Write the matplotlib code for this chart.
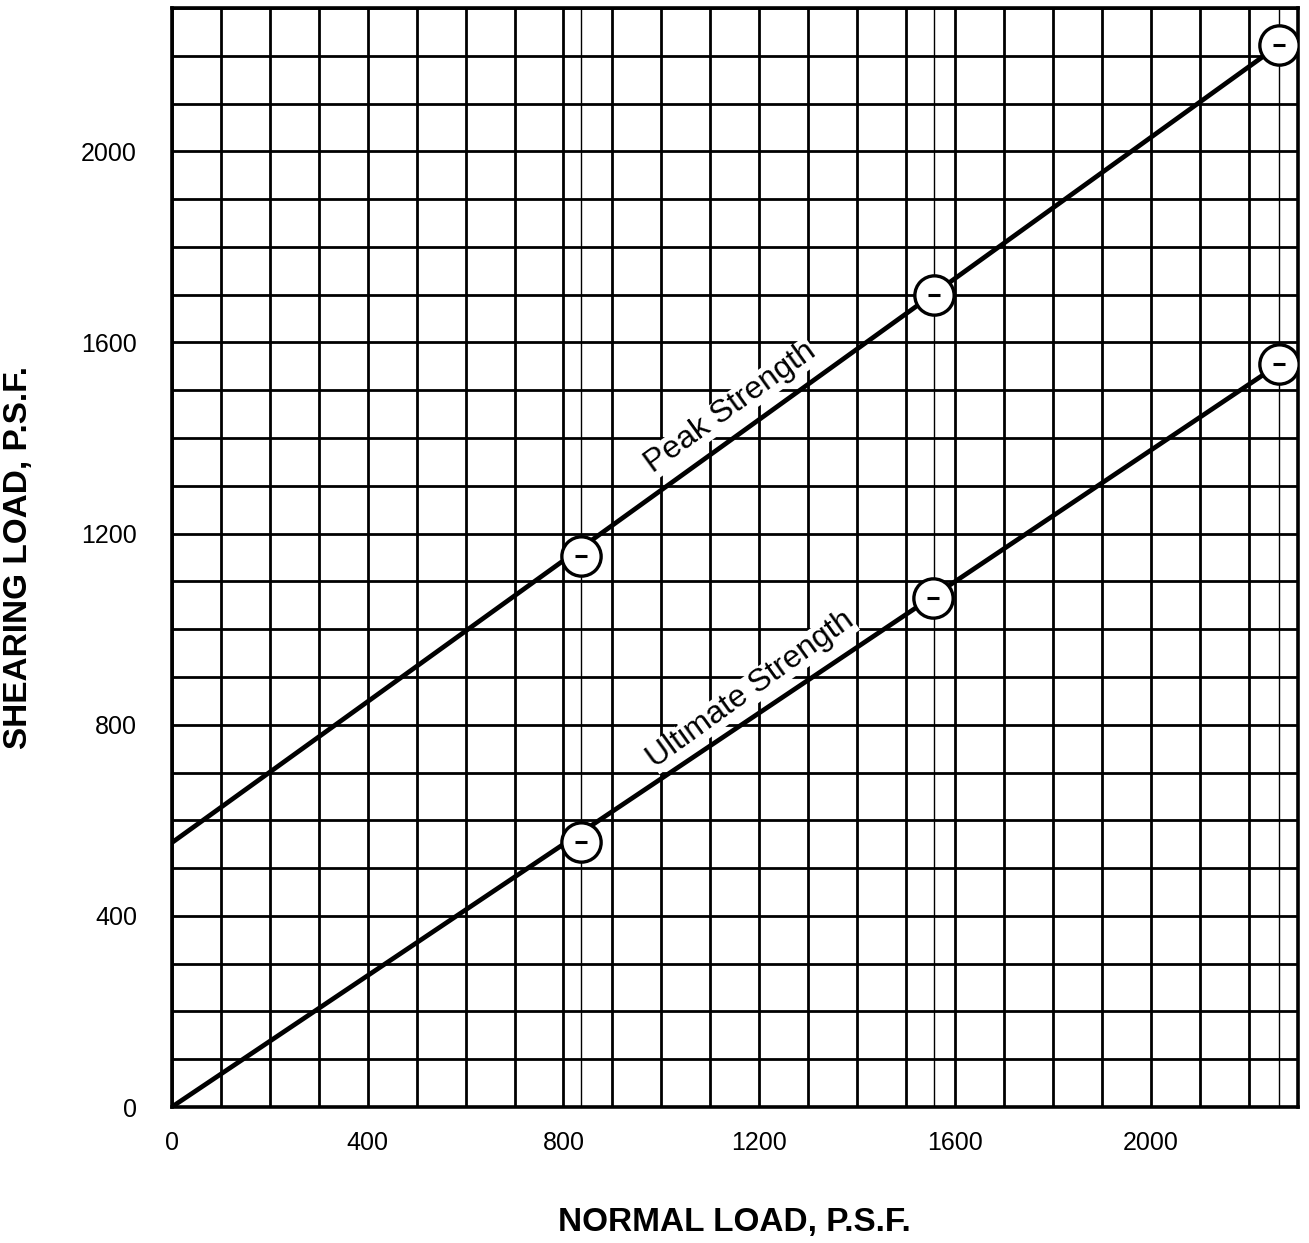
import matplotlib

matplotlib.use("Agg")
import matplotlib.pyplot as plt

# --- data -------------------------------------------------------------------
peak_x = [835, 1557, 2262]
peak_y = [1153, 1699, 2223]
ult_x = [835, 1555, 2262]
ult_y = [555, 1065, 1555]

# fitted strength envelopes (end points)
peak_line_x = [0, 2262]
peak_line_y = [553, 2223]
ult_line_x = [0, 2262]
ult_line_y = [0, 1555]

test_x = [835, 1557, 2262]   # thin guide lines at the tested normal loads
ticks = [0, 400, 800, 1200, 1600, 2000]

plt.rcParams.update({
    "font.family": ["Liberation Sans", "DejaVu Sans"],
})

fig = plt.figure(figsize=(13.09, 12.43), dpi=100)
ax = fig.add_axes([0.1312, 0.1094, 0.8604, 0.8842])
ax.set_xlim(0, 2300)
ax.set_ylim(0, 2300)

# graph-paper grid, one line every 100 psf
ax.set_xticks(ticks)
ax.set_yticks(ticks)
ax.set_xticks(range(0, 2301, 100), minor=True)
ax.set_yticks(range(0, 2301, 100), minor=True)
ax.grid(which="both", color="black", linewidth=2.0, zorder=0)
for x in test_x:
    ax.axvline(x, color="black", linewidth=1.0, zorder=0)

ax.plot(peak_line_x, peak_line_y, color="black", linewidth=3.4, zorder=3,
        solid_capstyle="butt")
ax.plot(ult_line_x, ult_line_y, color="black", linewidth=3.4, zorder=3,
        solid_capstyle="butt")

for xs, ys in ((peak_x, peak_y), (ult_x, ult_y)):
    ax.scatter(xs, ys, s=800, facecolors="white", edgecolors="black",
               linewidths=2.4, zorder=4)
    ax.scatter(xs, ys, s=70, marker="_", color="black", linewidths=2.2, zorder=5)

ax.text(1142, 1463, "Peak Strength", rotation=35.8, rotation_mode="anchor",
        ha="center", va="center", fontsize=23, zorder=6,
        bbox=dict(facecolor="white", edgecolor="none", pad=0))
ax.text(1183, 873, "Ultimate Strength", rotation=35.8, rotation_mode="anchor",
        ha="center", va="center", fontsize=23, zorder=6,
        bbox=dict(facecolor="white", edgecolor="none", pad=0))

ax.tick_params(which="both", length=0)
ax.tick_params(axis="x", labelsize=18, pad=17)
ax.tick_params(axis="y", labelsize=18, pad=25)

for s in ax.spines.values():
    s.set_linewidth(2.6)

ax.set_xlabel("NORMAL LOAD, P.S.F.", fontsize=24, fontweight="bold", labelpad=38)
ax.set_ylabel("SHEARING LOAD, P.S.F.", fontsize=24, fontweight="bold", labelpad=34)

fig.savefig("out.png", dpi=100)
